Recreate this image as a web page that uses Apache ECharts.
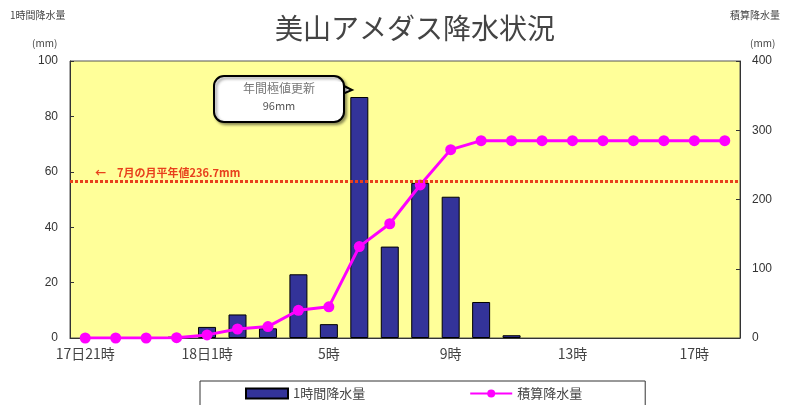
<!DOCTYPE html>
<html><head><meta charset="utf-8">
<script src="https://cdn.jsdelivr.net/npm/echarts@6/dist/echarts.min.js"></script>
<style>html,body{margin:0;padding:0;background:#fff}#c{width:800px;height:405px}</style>
</head><body><div id="c"></div>
<script>
const categories = ['17日21時','22時','23時','18日0時','18日1時','2時','3時','4時','5時','6時','7時','8時','9時','10時','11時','12時','13時','14時','15時','16時','17時','18時'];
const hourlyRain = [0,0,0,0.5,4,8.5,3.5,23,5,87,33,56,51,13,1,0,0,0,0,0,0,0];
const cumulativeRain = [0,0,0,0.5,4.5,13,16.5,40,45,132,165,221,272,285,285,285,285,285,285,285,285,285];
const leftTicks = {min:0, max:100, interval:20};
const rightTicks = {min:0, max:400, interval:100};
const normalValue = 226;
const normalLabel = '←　7月の月平年値236.7mm';
const font = '"Noto Sans CJK JP", "Liberation Sans", sans-serif';

const barData = hourlyRain.map(v => v > 0 ? v : {value:v, itemStyle:{borderWidth:0}});

const chart = echarts.init(document.getElementById('c'));
chart.setOption({
  backgroundColor:'#fff',
  animation:false,
  textStyle:{fontFamily:font},
  title:{text:'美山アメダス降水状況', left:410, textAlign:'center', top:9,
    textStyle:{fontFamily:font, fontSize:28, fontWeight:'normal', color:'#444'}},
  grid:{left:70, right:60, top:61, bottom:67, show:true, backgroundColor:'#FFFF99', borderColor:'#555', borderWidth:1},
  legend:{left:200, top:381, padding:[6,63,12,45], itemGap:104, itemWidth:42, itemHeight:10,
    borderColor:'#333', borderWidth:1, backgroundColor:'#fff',
    textStyle:{fontSize:13, color:'#444', fontFamily:font},
    data:[{name:'1時間降水量', icon:'rect'}, {name:'積算降水量'}]},
  xAxis:{type:'category', data:categories, boundaryGap:true,
    axisLine:{lineStyle:{color:'#333'}},
    axisTick:{inside:true, interval:0, length:4, lineStyle:{color:'#333'}},
    axisLabel:{interval:3, color:'#444', fontSize:14, margin:9, fontFamily:font}},
  yAxis:[
    {type:'value', min:leftTicks.min, max:leftTicks.max, interval:leftTicks.interval, position:'left',
      axisLine:{show:true, lineStyle:{color:'#333'}}, axisTick:{show:true, inside:true, length:4},
      splitLine:{show:false}, axisLabel:{color:'#333', fontSize:12, margin:12, fontFamily:'"Liberation Sans", sans-serif'}},
    {type:'value', min:rightTicks.min, max:rightTicks.max, interval:rightTicks.interval, position:'right',
      axisLine:{show:true, lineStyle:{color:'#333'}}, axisTick:{show:true, inside:true, length:4},
      splitLine:{show:false}, axisLabel:{color:'#333', fontSize:12, margin:12, fontFamily:'"Liberation Sans", sans-serif'}}
  ],
  series:[
    {name:'1時間降水量', type:'bar', yAxisIndex:0, data:barData, barWidth:18,
      itemStyle:{color:'#333399', borderColor:'#000', borderWidth:1}, z:2},
    {name:'積算降水量', type:'line', yAxisIndex:1, data:cumulativeRain, symbol:'circle', symbolSize:11,
      lineStyle:{color:'#FF00FF', width:3}, itemStyle:{color:'#FF00FF'}, z:4,
      markLine:{silent:true, symbol:'none', lineStyle:{color:'#E8401C', type:[3,2], width:3},
        label:{show:true, position:'insideStartTop', formatter:normalLabel, color:'#E8401C', fontSize:11, fontWeight:'bold', distance:[25,3]},
        data:[{yAxis:normalValue}]}}
  ],
  graphic:[
    {type:'text', left:10, top:10, style:{text:'1時間降水量', fontSize:10, fill:'#444', fontFamily:font}},
    {type:'text', left:32, top:38, style:{text:'(mm)', fontSize:10, fill:'#444', fontFamily:font}},
    {type:'text', left:730, top:10, style:{text:'積算降水量', fontSize:10, fill:'#444', fontFamily:font}},
    {type:'text', left:750, top:38, style:{text:'(mm)', fontSize:10, fill:'#444', fontFamily:font}},
    {type:'group', z:100, children:[
      {type:'polygon', shape:{points:[[330,79],[352,90],[333,98]]}, style:{fill:'#fff', stroke:'#000', lineWidth:2}},
      {type:'rect', shape:{x:214, y:76, width:130, height:46, r:10}, style:{fill:'#fff', stroke:'#000', lineWidth:2, shadowBlur:3, shadowColor:'rgba(0,0,0,0.4)', shadowOffsetX:2, shadowOffsetY:2}},
      {type:'rect', shape:{x:328, y:82, width:14, height:14}, style:{fill:'#fff'}},
      {type:'text', style:{x:279, y:82, text:'年間極値更新', align:'center', fontSize:12, fill:'#777', fontFamily:font}},
      {type:'text', style:{x:279, y:100, text:'96mm', align:'center', fontSize:11, fill:'#555', fontFamily:font}}
    ]}
  ]
});
</script></body></html>
